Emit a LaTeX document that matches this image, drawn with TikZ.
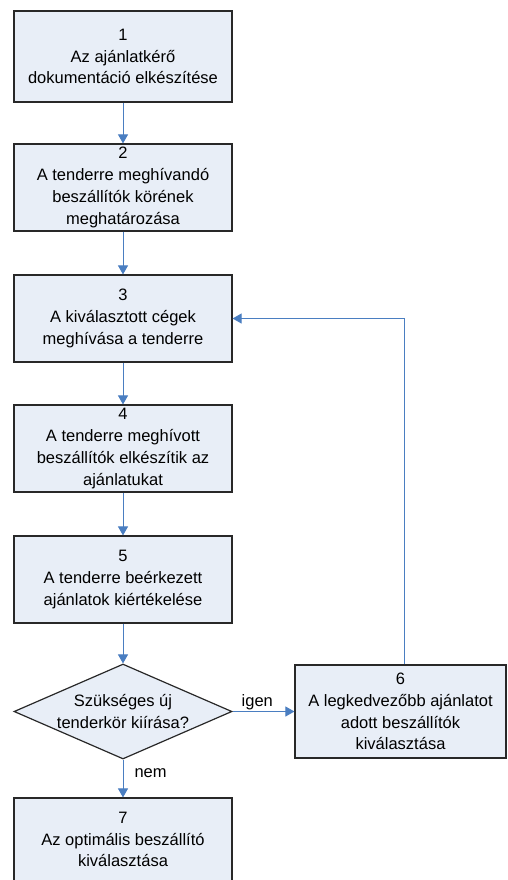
\documentclass[tikz,border=0pt]{standalone}
\usepackage{fontspec}
\setmainfont{Liberation Sans}
\usetikzlibrary{arrows.meta,shapes.geometric}
\definecolor{boxfill}{RGB}{232,238,247}
\definecolor{boxline}{RGB}{40,40,40}
\definecolor{flow}{RGB}{74,126,193}

\begin{document}
\begin{tikzpicture}[x=1pt, y=1pt,
	txt/.style={font=\fontsize{16.5}{21.8}\selectfont},
	box/.style={txt, draw=boxline, fill=boxfill, line width=1.2pt, inner sep=0pt, align=center, minimum width=218pt, minimum height=87pt},
	decision/.style={diamond, draw=boxline, fill=boxfill, line width=1.2pt, inner sep=0pt, minimum width=218pt, minimum height=95pt},
	link/.style={draw=flow, line width=1pt, -{Triangle[length=9pt, width=10pt]}}]
\clip (0,0) rectangle (507,-880);
\fill [white] (0,0) rectangle (507,-880);
\node [box, minimum height=91pt] (b1) at (123,-56.5) {1\\Az ajánlatkérő\\dokumentáció elkészítése};
\node [box] (b2) at (123,-187.5) {2\\A tenderre meghívandó\\beszállítók körének\\meghatározása};
\node [box] (b3) at (123,-318.5) {3\\A kiválasztott cégek\\meghívása a tenderre};
\node [box] (b4) at (123,-448.5) {4\\A tenderre meghívott\\beszállítók elkészítik az\\ajánlatukat};
\node [box] (b5) at (123,-579.5) {5\\A tenderre beérkezett\\ajánlatok kiértékelése};
\node [decision, label={[txt, align=center]center:Szükséges új\\tenderkör kiírása?}] (d) at (123,-711.5) {};
\node [box, minimum width=211pt, minimum height=93pt] (b6) at (400.5,-711.5) {6\\A legkedvezőbb ajánlatot\\adott beszállítók\\kiválasztása};
\node [box, minimum height=83pt] (b7) at (123,-839.5) {7\\Az optimális beszállító\\kiválasztása};
\foreach \a/\b in {b1/b2,b2/b3,b3/b4,b4/b5,b5/d}
	\draw [link] (\a) -- (\b);
\draw [link] (d.east) -- node [txt, pos=0.4, above, inner sep=1.5pt] {igen} (b6.west);
\draw [link] (d.south) -- node [txt, pos=0.36, anchor=west, inner sep=0pt, xshift=11pt] {nem} (b7.north);
\draw [link] ([xshift=3.5pt]b6.north) |- (b3.east);
\end{tikzpicture}
\end{document}
